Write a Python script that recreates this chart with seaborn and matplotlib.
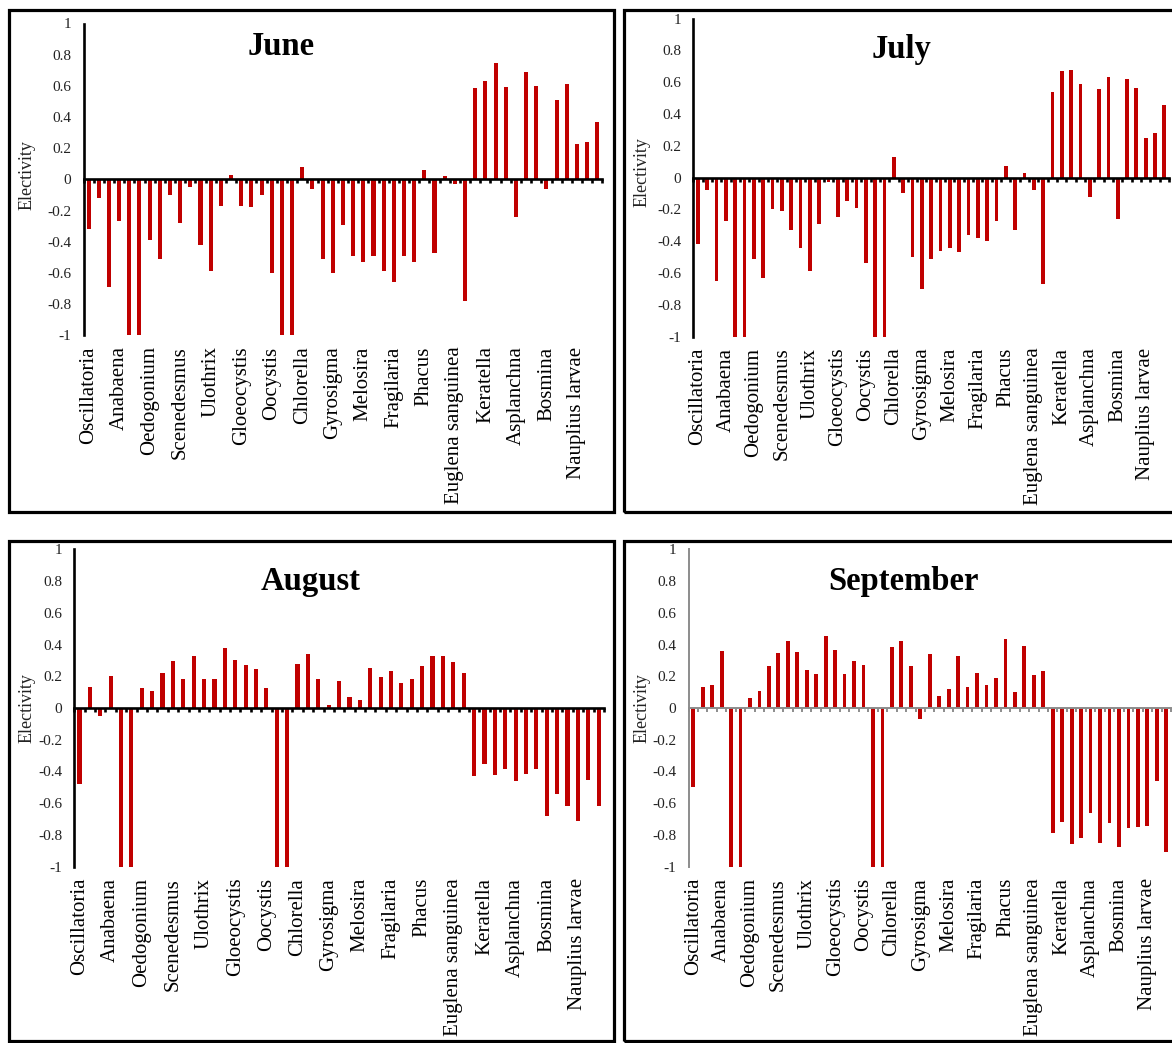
import numpy as np
import pandas as pd
import matplotlib
matplotlib.use("Agg")
import matplotlib.pyplot as plt
from matplotlib.patches import Rectangle
import seaborn as sns

# ---------------- data ----------------
tick_labels = ["Oscillatoria", "Anabaena", "Oedogonium", "Scenedesmus", "Ulothrix",
               "Gloeocystis", "Oocystis", "Chlorella", "Gyrosigma", "Melosira",
               "Fragilaria", "Phacus", "Euglena sanguinea", "Keratella",
               "Asplanchna", "Bosmina", "Nauplius larvae"]

june = [-0.32, -0.12, -0.69, -0.27, -1, -1, -0.39, -0.51, -0.10, -0.28,
        -0.05, -0.42, -0.59, -0.17, 0.03, -0.17, -0.18, -0.10, -0.60, -1,
        -1, 0.08, -0.06, -0.51, -0.60, -0.29, -0.49, -0.53, -0.49, -0.59,
        -0.66, -0.49, -0.53, 0.06, -0.47, 0.025, -0.03, -0.78, 0.585, 0.63,
        0.745, 0.59, -0.24, 0.69, 0.60, -0.06, 0.51, 0.615, 0.23, 0.24, 0.37]

july = [-0.42, -0.08, -0.65, -0.27, -1, -1, -0.51, -0.63, -0.20, -0.21,
        -0.33, -0.44, -0.59, -0.29, -0.03, -0.245, -0.15, -0.19, -0.54, -1,
        -1, 0.13, -0.10, -0.50, -0.70, -0.51, -0.46, -0.44, -0.47, -0.36,
        -0.38, -0.40, -0.27, 0.07, -0.33, 0.03, -0.08, -0.67, 0.54, 0.67,
        0.68, 0.59, -0.12, 0.555, 0.635, -0.26, 0.62, 0.565, 0.25, 0.28, 0.455]

august = [-0.48, 0.135, -0.05, 0.20, -1, -1, 0.125, 0.105, 0.22, 0.295,
          0.185, 0.33, 0.18, 0.185, 0.38, 0.305, 0.27, 0.245, 0.125, -1,
          -1, 0.28, 0.34, 0.18, 0.02, 0.17, 0.07, 0.05, 0.255, 0.195,
          0.235, 0.16, 0.18, 0.265, 0.325, 0.325, 0.29, 0.22, -0.43, -0.355,
          -0.42, -0.385, -0.46, -0.415, -0.385, -0.68, -0.54, -0.62, -0.715, -0.455, -0.615]

september = [-0.50, 0.13, 0.147, 0.36, -1, -1, 0.065, 0.107, 0.265, 0.345,
             0.42, 0.353, 0.237, 0.212, 0.454, 0.368, 0.216, 0.294, 0.27, -1,
             -1, 0.382, 0.42, 0.265, -0.07, 0.338, 0.078, 0.12, 0.33, 0.13,
             0.22, 0.147, 0.187, 0.437, 0.099, 0.39, 0.206, 0.235, -0.79, -0.716,
             -0.86, -0.82, -0.664, -0.85, -0.727, -0.878, -0.754, -0.748, -0.744, -0.462, -0.908]

months = ["June", "July", "August", "September"]
series = [june, july, august, september]

# ---------------- style ----------------
sns.set_style("white")
plt.rcParams["font.family"] = ["Liberation Serif", "DejaVu Serif"]

W, H = 1172, 1043
fig = plt.figure(figsize=(W / 100, H / 100), dpi=100)
fig.patch.set_facecolor("white")

def fx(px):
    return px / W

def fy(py):
    return 1 - py / H

RED = "#C00000"

# panel layout in pixels: (left, right, top, bottom) of axes
axes_px = [
    (83.5, 602.4, 23.5, 335.3),
    (693.3, 1169.0, 18.7, 336.5),
    (74.3, 603.9, 549.3, 866.7),
    (688.5, 1171.0, 549.3, 866.7),
]
title_px = [(281.5, 55.0), (901.5, 58.3), (311.0, 590.0), (903.0, 590.0)]
ylabel_px = [(27, 175), (642, 172), (27, 708), (642, 708)]
box_px = [(8.8, 614.5, 10.5, 512), (624, 1185, 10.5, 512),
          (8.8, 614.5, 541, 1041), (624, 1185, 541, 1041)]
axis_colors = ["black", "black", "black", "#8C8C8C"]
axis_lw = [1.9, 1.9, 1.9, 1.4]

yticks = np.round(np.arange(-1, 1.001, 0.2), 1)
ytick_text = [f"{v:g}" if abs(v) > 1e-9 else "0" for v in yticks]

for i, (month, vals) in enumerate(zip(months, series)):
    l, r, t, b = axes_px[i]
    ax = fig.add_axes([fx(l), fy(b), (r - l) / W, (b - t) / H])
    df = pd.DataFrame({"idx": np.arange(len(vals)), "value": vals})
    sns.barplot(data=df, x="idx", y="value", ax=ax, color=RED, width=0.4,
                saturation=1, linewidth=0, errorbar=None)
    ax.set_xlim(-0.5, len(vals) - 0.5)
    ax.set_ylim(-1, 1)
    ax.set_xlabel("")
    ax.set_ylabel("")
    ax.set_facecolor("none")

    col = axis_colors[i]
    for s in ["top", "right", "bottom"]:
        ax.spines[s].set_visible(False)
    ax.spines["left"].set_color(col)
    ax.spines["left"].set_linewidth(axis_lw[i])

    ax.set_yticks(yticks)
    ax.set_yticklabels(ytick_text)
    ax.tick_params(axis="y", direction="out", length=3.2, width=axis_lw[i],
                   color=col, labelsize=11, pad=5.5, labelcolor="#222222")

    ax.set_xticks(np.arange(0, len(vals), 3))
    ax.set_xticklabels(tick_labels, rotation=90, fontsize=15)
    ax.tick_params(axis="x", length=0, pad=8, labelcolor="black")

    # zero line with category-boundary ticks
    sec = ax.secondary_xaxis(0.49999)
    sec.set_xticks(np.arange(-0.5, len(vals), 1.0))
    sec.set_xticklabels([])
    sec.tick_params(direction="out", length=3.2, width=axis_lw[i], color=col)
    sec.spines["bottom"].set_color(col)
    sec.spines["bottom"].set_linewidth(axis_lw[i])
    sec.set_zorder(5)

    tx, ty = title_px[i]
    fig.text(fx(tx), fy(ty), month, ha="center", va="baseline",
             fontsize=23.5, fontweight="bold", color="black")
    lx, ly = ylabel_px[i]
    fig.text(fx(lx), fy(ly), "Electivity", rotation=90, ha="center",
             va="center", fontsize=13, color="#222222")

    x0, x1, y0, y1 = box_px[i]
    fig.add_artist(Rectangle((fx(x0), fy(y1)), (x1 - x0) / W, (y1 - y0) / H,
                             transform=fig.transFigure, fill=False,
                             edgecolor="black", linewidth=2.3, zorder=10))

fig.savefig("out.png", dpi=100, facecolor="white")
